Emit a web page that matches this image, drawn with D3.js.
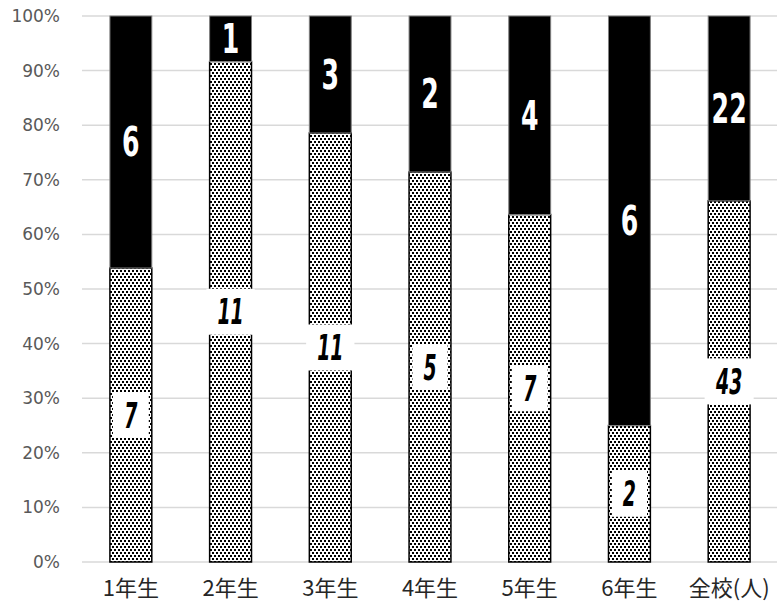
<!DOCTYPE html>
<html><head><meta charset="utf-8">
<script src="https://cdn.jsdelivr.net/npm/d3@7"></script>
<style>body{margin:0;background:#fff}</style>
</head><body>
<svg id="c" width="777" height="608"></svg>
<script>
const categories = ["1年生","2年生","3年生","4年生","5年生","6年生","全校(人)"];
const seriesA = [7,11,11,5,7,2,43];   // dotted (bottom)
const seriesB = [6,1,3,2,4,6,22];     // black (top)
const yTicks = [0,0.1,0.2,0.3,0.4,0.5,0.6,0.7,0.8,0.9,1.0];

const svg = d3.select("#c");
const defs = svg.append("defs");
const pat = defs.append("pattern").attr("id","dots").attr("patternUnits","userSpaceOnUse")
  .attr("width",4).attr("height",6);
pat.append("rect").attr("width",4).attr("height",6).attr("fill","#fff");
pat.append("rect").attr("x",0).attr("y",0).attr("width",2).attr("height",2).attr("fill","#000");
pat.append("rect").attr("x",2).attr("y",3).attr("width",2).attr("height",2).attr("fill","#000");

const x = d3.scaleBand().domain(categories).range([81,779]).paddingInner(0.58).paddingOuter(0.29);
const y = d3.scaleLinear().domain([0,1]).range([562,16]);

// gridlines
svg.append("g").selectAll("line").data(yTicks).join("line")
  .attr("x1",82).attr("x2",777).attr("y1",d=>y(d)).attr("y2",d=>y(d))
  .attr("stroke","#d9d9d9").attr("stroke-width",1.5);

// y axis labels
const yAxis = d3.axisLeft(y).tickValues(yTicks).tickFormat(d3.format(".0%")).tickSize(0).tickPadding(0);
const ya = svg.append("g").attr("transform","translate(60,0)").call(yAxis);
ya.select(".domain").remove();
ya.selectAll("text").attr("font-family","'DejaVu Sans', sans-serif").attr("font-size",17).attr("fill","#595959");

// x axis labels
const xAxis = d3.axisBottom(x).tickSize(0).tickPadding(0);
const xa = svg.append("g").attr("transform","translate(0,580)").call(xAxis);
xa.select(".domain").remove();
xa.selectAll("text").attr("font-family","'Noto Sans CJK JP', sans-serif").attr("font-size",22).attr("fill","#262626");

const data = categories.map((c,i)=>{const t=seriesA[i]+seriesB[i];return {c,a:seriesA[i],b:seriesB[i],pa:seriesA[i]/t};});

const g = svg.append("g");
// dotted
g.selectAll("rect.a").data(data).join("rect").attr("class","a")
  .attr("x",d=>x(d.c)).attr("width",x.bandwidth())
  .attr("y",d=>y(d.pa)).attr("height",d=>y(0)-y(d.pa))
  .attr("fill","url(#dots)").attr("stroke","#000").attr("stroke-width",1.5);
// black
g.selectAll("rect.b").data(data).join("rect").attr("class","b")
  .attr("x",d=>x(d.c)).attr("width",x.bandwidth())
  .attr("y",y(1)).attr("height",d=>y(d.pa)-y(1))
  .attr("fill","#000").attr("stroke","#7f7f7f").attr("stroke-width",1);

const lf = "'DejaVu Sans Condensed','DejaVu Sans',sans-serif";
const sxA = 0.6, sxB = 0.7;
// dotted labels with white boxes
const la = svg.append("g").selectAll("g").data(data).join("g")
  .attr("transform",d=>`translate(${x(d.c)+x.bandwidth()/2},${y(d.pa/2)})`);
la.append("text").attr("text-anchor","middle").attr("dy","0.36em")
  .attr("transform",`scale(${sxA},1)`)
  .attr("font-family",lf).attr("font-weight","bold").attr("font-style","italic")
  .attr("font-size",35).attr("fill","#000").text(d=>d.a);
la.each(function(){
  const gg=d3.select(this); const bb=gg.select("text").node().getBBox();
  const w=bb.width*sxA+22, h=46;
  gg.insert("rect","text").attr("x",-w/2).attr("y",-h/2).attr("width",w).attr("height",h).attr("fill","#fff");
});
// black labels
svg.append("g").selectAll("g").data(data).join("g")
  .attr("transform",d=>`translate(${x(d.c)+x.bandwidth()/2},${y((1+d.pa)/2)})`)
  .append("text").attr("dy","0.36em").attr("transform",`scale(${sxB},1)`)
  .attr("text-anchor","middle").attr("font-family",lf).attr("font-weight","bold")
  .attr("font-size",40).attr("fill","#fff").text(d=>d.b);
</script>
</body></html>
